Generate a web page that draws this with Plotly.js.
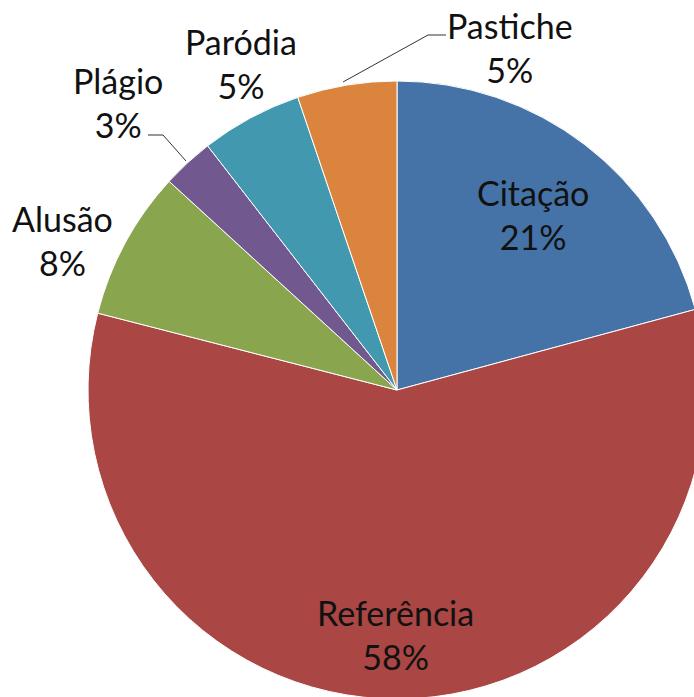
<!DOCTYPE html>
<html>
<head>
<meta charset="utf-8">
<script src="https://cdn.plot.ly/plotly-3.0.1.min.js"></script>
<style>
html,body{margin:0;padding:0;overflow:hidden;background:#fff;}
#chart{width:720px;height:700px;}
</style>
</head>
<body>
<div id="chart"></div>
<script>
const categories = ['Citação', 'Referência', 'Alusão', 'Plágio', 'Paródia', 'Pastiche'];
const values = [20.8, 58.2, 7.8, 2.7, 5.3, 5.2];
const colors = ['#4572A7', '#AA4643', '#89A54E', '#71588F', '#4198AF', '#DB843D'];

const W = 720, H = 700;
// label centers in pixels
const labelPos = [[533, 214], [395, 634], [63, 240], [118, 103], [241, 64], [510, 47]];

const total = values.reduce((a, b) => a + b, 0);
const pct = values.map(v => Math.round(v / total * 100) + '%');

const px = x => x / W;
const py = y => 1 - y / H;

const annotations = categories.map((c, i) => ({
  text: c + '<br>' + pct[i],
  x: px(labelPos[i][0]), y: py(labelPos[i][1]),
  xref: 'paper', yref: 'paper',
  xanchor: 'center', yanchor: 'middle',
  showarrow: false,
  font: {family: 'Lato, "Open Sans", sans-serif', size: 34, color: '#111'}
}));

const shapes = [
  {type: 'path', xref: 'paper', yref: 'paper',
   path: `M${px(148)},${py(135)} L${px(163)},${py(135)} L${px(186)},${py(161)}`,
   line: {color: '#333', width: 1}},
  {type: 'path', xref: 'paper', yref: 'paper',
   path: `M${px(446)},${py(35)} L${px(428)},${py(35)} L${px(343)},${py(82)}`,
   line: {color: '#333', width: 1}}
];

const trace = {
  type: 'pie',
  labels: categories,
  values: values,
  sort: false,
  direction: 'clockwise',
  rotation: 0,
  textinfo: 'none',
  hoverinfo: 'label+percent',
  marker: {colors: colors, line: {color: '#ffffff', width: 1}},
  domain: {x: [88 / W, 706 / W], y: [1 / H, 619 / H]},
  showlegend: false
};

Plotly.newPlot('chart', [trace], {
  width: W, height: H,
  margin: {l: 0, r: 0, t: 0, b: 0},
  paper_bgcolor: '#fff',
  showlegend: false,
  annotations: annotations,
  shapes: shapes
}, {staticPlot: true});
</script>
</body>
</html>
